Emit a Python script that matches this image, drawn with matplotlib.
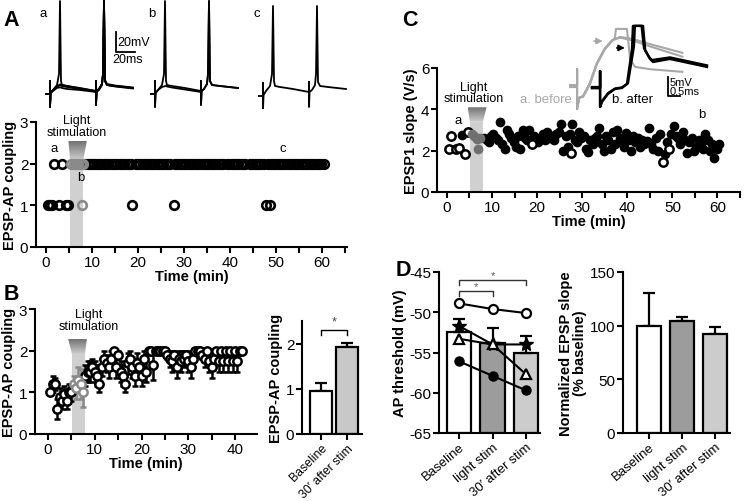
import matplotlib
matplotlib.use('Agg')
import matplotlib.pyplot as plt
import numpy as np
from matplotlib.patches import Polygon, Rectangle

plt.rcParams['font.family'] = ['Liberation Sans', 'DejaVu Sans']
plt.rcParams['axes.linewidth'] = 1.5
plt.rcParams['axes.unicode_minus'] = False

# ---------------- data ----------------
# Panel A traces (ms, mV)
trace_t = [0, 5, 5, 5, 5.6, 8, 12, 14, 15, 16, 17, 22, 35, 51, 51, 51, 51.6, 54, 57, 58, 59, 60, 62, 70, 88]
a_sw1 = [-65, -65, -52, -78, -64, -61, -56, -45, 28, -52, -56, -57, -59, -62, -52, -76, -62, -60, -55, -45, 28, -52, -56, -57, -59]
a_sw2 = [-65, -65, -52, -78, -64, -61, -58, -57, -56.5, -56.5, -57, -58, -60, -62.5, -52, -76, -62, -60, -55, -45, 28, -52, -56, -57, -59]
a_sw3 = [-65, -65, -52, -78, -64, -62, -59, -58.5, -58.5, -58.5, -59, -60, -61, -63, -52, -76, -63, -61, -56, -45, 28, -52, -56, -57.5, -59.5]
a_sw4 = [-65, -65, -52, -78, -64, -61, -57, -56, -55.5, -55.5, -56, -57, -59.5, -62, -52, -76, -62, -60, -55, -45, 28, -51, -55, -56.5, -58.5]
b_sw1 = [-65, -65, -52, -78, -64, -61, -56, -45, 28, -52, -56, -57, -59, -62, -52, -76, -62, -60, -55, -45, 28, -52, -56, -57, -59]
b_sw2 = [-65, -65, -52, -78, -64, -61, -58, -57.5, -57, -57, -57.5, -58.5, -60.5, -63, -52, -76, -62, -60, -55, -45, 28, -52, -56, -57, -59]
c_sw1 = [-67, -67, -54, -80, -66, -62, -57, -45, 23, -52, -57, -58, -60, -63, -53, -78, -63, -61, -56, -45, 23, -53, -57, -58, -60]

# Panel A scatter
a_t_two = [1.7, 3.5, 5.5, 6.0, 6.5, 7.0, 7.5, 8.0, 8.5, 9.0, 9.5, 10.0, 10.5, 11.0, 11.5, 12.0, 12.5, 13.0,
           13.5, 14.0, 14.5, 15.0, 15.5, 16.0, 16.5, 17.0, 17.5, 18.0, 18.5, 19.5, 20.0, 20.5, 21.0, 21.5,
           22.0, 22.5, 23.0, 23.5, 24.0, 24.5, 25.0, 25.5, 26.0, 26.5, 27.0, 28.0, 28.5, 29.0, 29.5, 30.0,
           30.5, 31.0, 31.5, 32.0, 32.5, 33.0, 33.5, 34.0, 34.5, 35.0, 35.5, 36.0, 36.5, 37.0, 37.5, 38.0,
           38.5, 39.3, 39.8, 40.3, 40.8, 41.3, 41.8, 42.3, 42.8, 43.3, 44.3, 44.8, 45.3, 45.8, 46.3, 46.8,
           47.3, 48.3, 48.8, 49.3, 49.8, 50.3, 50.8, 51.3, 51.8, 52.3, 52.8, 53.3, 53.8, 54.3, 54.8, 55.3,
           55.8, 56.3, 56.8, 57.3, 57.8, 58.3, 58.8, 59.3, 59.8, 60.3]
a_t_one = [0.5, 0.9, 1.3, 2.7, 4.3, 4.8, 7.7, 18.7, 27.7, 47.8, 48.6]

# Panel B time course
b_t = [0.5, 1.0, 1.5, 2.0, 2.5, 3.0, 3.5, 4.0, 4.5, 5.0, 5.5, 6.0, 6.5, 7.0, 7.5, 8.0, 8.5, 9.0, 9.5, 10.0,
       10.5, 11.0, 11.5, 12.0, 12.5, 13.0, 13.5, 14.0, 14.5, 15.0, 15.5, 16.0, 16.5, 17.0, 17.5, 18.0, 18.5,
       19.0, 19.5, 20.0, 20.5, 21.0, 21.5, 22.0, 22.5, 23.0, 23.5, 24.0, 24.5, 25.0, 25.5, 26.0, 26.5, 27.0,
       27.5, 28.0, 28.5, 29.0, 29.5, 30.0, 30.5, 31.0, 31.5, 32.0, 32.5, 33.0, 33.5, 34.0, 34.5, 35.0, 35.5,
       36.0, 36.5, 37.0, 37.5, 38.0, 38.5, 39.0, 39.5, 40.0, 40.5, 41.0, 41.5]
b_y = [1.0, 1.2, 1.2, 0.6, 0.9, 0.8, 0.95, 0.8, 1.0, 1.0, 1.2, 1.1, 1.3, 1.2, 1.0, 1.4, 1.5, 1.5, 1.6, 1.5,
       1.4, 1.2, 1.6, 1.8, 1.7, 1.6, 1.8, 2.0, 1.6, 1.9, 1.5, 1.4, 1.2, 1.7, 1.8, 1.6, 1.4, 1.7, 1.6, 1.4,
       1.8, 1.5, 2.0, 2.0, 1.65, 2.0, 2.0, 2.0, 2.0, 2.0, 1.9, 1.8, 1.75, 1.9, 1.6, 1.8, 1.75, 1.8, 1.9, 1.75,
       1.6, 1.8, 2.0, 2.0, 2.0, 1.9, 1.8, 2.0, 1.75, 1.6, 1.8, 2.0, 1.75, 2.0, 1.75, 2.0, 1.75, 2.0, 1.75, 2.0,
       1.75, 2.0, 2.0]
b_err = [0.0, 0.2, 0.15, 0.25, 0.2, 0.2, 0.2, 0.2, 0.2, 0.2, 0.2, 0.25, 0.3, 0.35, 0.35, 0.25, 0.25, 0.25, 0.2, 0.25,
         0.25, 0.2, 0.2, 0.2, 0.2, 0.25, 0.2, 0.0, 0.25, 0.1, 0.25, 0.25, 0.2, 0.25, 0.2, 0.25, 0.25, 0.25, 0.2, 0.25,
         0.2, 0.25, 0.0, 0.0, 0.35, 0.0, 0.0, 0.0, 0.0, 0.0, 0.1, 0.2, 0.25, 0.1, 0.25, 0.2, 0.25, 0.2, 0.1, 0.25,
         0.25, 0.2, 0.0, 0.0, 0.0, 0.1, 0.2, 0.0, 0.25, 0.25, 0.2, 0.0, 0.25, 0.0, 0.25, 0.0, 0.25, 0.0, 0.25, 0.0,
         0.25, 0.0, 0.0]

# Panel B bars
bb_labels = ['Baseline', '30\u2032 after stim']
bb_vals = [0.95, 1.92]
bb_err = [0.17, 0.09]

# Panel C
c_open_t = [0.5, 1.0, 2.1, 2.6, 4.0, 4.6, 18.8, 27.6, 47.9, 49.3]
c_open_y = [2.1, 2.7, 2.1, 2.15, 1.85, 2.9, 2.3, 1.88, 1.47, 2.07]
c_stim_t = [5.6, 6.1, 6.6, 6.9, 7.4]
c_stim_y = [2.8, 2.7, 2.55, 2.1, 2.6]
c_fill_t = [3.3, 8.3, 8.8, 9.3, 9.8, 10.3, 10.8, 11.3, 11.8, 12.3, 12.8, 13.3, 13.8, 14.3, 14.8, 15.3, 15.8,
            16.3, 16.8, 17.3, 17.8, 18.3, 19.3, 19.8, 20.3, 20.8, 21.3, 21.8, 22.3, 22.8, 23.3, 23.8, 24.3,
            24.8, 25.3, 25.8, 26.3, 26.8, 27.3, 27.8, 28.3, 28.8, 29.3, 29.8, 30.3, 30.8, 31.3, 31.8, 32.3,
            32.8, 33.3, 33.8, 34.3, 34.8, 35.3, 35.8, 36.3, 36.8, 37.3, 37.8, 38.3, 38.8, 39.3, 39.8, 40.3,
            40.8, 41.3, 41.8, 42.3, 42.8, 43.3, 43.8, 44.3, 44.8, 45.3, 45.8, 46.3, 46.8, 47.3, 48.3, 48.8,
            49.8, 50.3, 50.8, 51.3, 51.8, 52.3, 52.8, 53.3, 53.8, 54.3, 54.8, 55.3, 55.8, 56.3, 56.8, 57.3,
            57.8, 58.3, 58.8, 59.3, 59.8, 60.3]
c_fill_y = [2.75, 2.6, 2.5, 2.4, 2.7, 2.8, 2.6, 2.5, 3.4, 2.3, 2.1, 3.0, 2.8, 2.6, 2.4, 2.2, 2.7,
            2.1, 3.0, 2.6, 2.5, 3.0, 2.7, 2.5, 2.4, 2.6, 2.8, 2.5, 2.9, 2.6, 2.7, 2.5, 2.8,
            2.9, 3.3, 2.0, 2.7, 2.2, 2.8, 3.3, 2.5, 2.4, 2.9, 2.6, 2.7, 2.1, 1.95, 2.5, 2.3,
            2.6, 2.7, 3.1, 2.3, 2.0, 2.7, 2.5, 2.1, 2.9, 2.3, 3.0, 2.6, 2.4, 2.2, 2.85, 2.5,
            2.0, 2.7, 2.4, 2.6, 2.2, 2.5, 2.3, 2.45, 3.1, 2.3, 2.1, 2.6, 2.0, 2.8, 1.85, 2.4,
            2.8, 3.2, 2.7, 2.6, 2.3, 2.9, 2.5, 1.9, 2.4, 2.6, 2.0, 2.2, 2.5, 2.3, 2.1, 2.8,
            2.5, 2.0, 2.3, 1.65, 2.1, 2.3]

# Panel C inset traces (ms, mV)
ci_gray1_t = [0.42, 0.71, 0.71, 0.71, 0.8, 0.96, 1.25, 1.54, 1.875, 2.17, 2.29, 2.33, 2.79, 2.92, 3.125, 3.75, 5.1]
ci_gray1_v = [6.3, 6.3, 11.0, 0.5, 3.5, 3.7, 7.1, 12.4, 16.3, 18.4, 19.3, 21.6, 21.6, 13.7, 11.6, 11.0, 10.3]
ci_gray2_t = [0.42, 0.71, 0.71, 0.71, 0.8, 0.96, 1.25, 1.54, 1.875, 2.17, 2.5, 3.0, 3.75, 5.1]
ci_gray2_v = [6.8, 6.8, 11.0, 0.5, 3.5, 3.9, 7.4, 12.6, 16.5, 18.6, 19.5, 19.0, 17.6, 15.3]
ci_gray3_v = [6.8, 6.8, 11.0, 0.5, 3.5, 3.9, 7.4, 12.6, 16.5, 18.6, 19.3, 18.6, 17.0, 14.3]
ci_black1_t = [1.33, 1.67, 1.67, 1.67, 1.75, 2.0, 2.29, 2.58, 2.79, 3.0, 3.04, 3.46, 3.55, 3.75, 3.875, 4.58, 6.125]
ci_black1_v = [6.3, 6.3, 10.5, 1.05, 2.4, 4.5, 5.8, 6.05, 7.1, 16.3, 22.4, 22.4, 16.0, 13.7, 12.9, 13.7, 11.6]
ci_black2_t = [1.33, 1.67, 1.67, 1.67, 1.75, 2.0, 2.29, 2.58, 2.83, 3.08, 3.12, 3.4, 3.5, 3.7, 3.83, 4.58, 6.125]
ci_black2_v = [6.0, 6.0, 10.5, 1.05, 2.6, 4.7, 5.9, 6.2, 7.3, 17.0, 22.4, 22.4, 16.5, 14.3, 13.4, 14.1, 12.0]

# Panel D
d_labels = ['Baseline', 'light stim', '30\u2032 after stim']
d_thr = [-52.5, -53.8, -55.0]
d_thr_err = [1.6, 1.8, 2.1]
cell_open = [-48.9, -49.6, -50.1]
cell_star = [-51.7, -54.0, -54.0]
cell_tri = [-53.3, -54.0, -57.7]
cell_fill = [-56.1, -57.9, -59.7]
d_slope = [100, 104, 92]
d_slope_err = [30, 4, 6.5]

# ---------------- style ----------------
W, H = 747, 502
fig = plt.figure(figsize=(W / 100, H / 100), dpi=100)
TICK = 11
LAB = 10.5
SHADE = '#d0d0d0'
GRAYPT = '#8a8a8a'


def axpx(l, t, r, b):
    return fig.add_axes([l / W, 1 - b / H, (r - l) / W, (b - t) / H])


def ftext(x, y, s, **kw):
    fig.text(x / W, 1 - y / H, s, **kw)


def style(ax):
    for s in ['top', 'right']:
        ax.spines[s].set_visible(False)
    ax.tick_params(which='both', width=1.5, length=4, labelsize=TICK, pad=1.5)


def stim(ax, x0, x1, ytop, fx0, fx1, ftop):
    ax.add_patch(Rectangle((x0, 0), x1 - x0, ytop, color=SHADE, lw=0, zorder=0.5))
    poly = Polygon([[fx0, ftop], [fx1, ftop], [x1, ytop], [x0, ytop]], closed=True,
                   facecolor='none', edgecolor='none')
    ax.add_patch(poly)
    grad = np.linspace(0.45, 0.8, 60).reshape(-1, 1)
    im = ax.imshow(grad, extent=[fx0, fx1, ytop, ftop], origin='upper', aspect='auto',
                   cmap='gray', vmin=0, vmax=1, zorder=0.6, interpolation='bilinear')
    im.set_clip_path(poly)


# ---------------- Panel A traces ----------------
for left, sweeps in [(45, [a_sw1, a_sw2, a_sw3, a_sw4]), (150, [b_sw1, b_sw2]), (258, [c_sw1])]:
    tax = axpx(left, 0, left + 95, 110)
    tax.set_xlim(0, 95)
    tax.set_ylim(-80, 30)
    tax.axis('off')
    for sw in sweeps:
        tax.plot(trace_t, sw, color='black', lw=1.3)
    if left == 45:
        tax.plot([71, 71, 90], [-3, -23, -23], color='black', lw=1.3, clip_on=False)
        tax.text(72.5, -13, '20mV', fontsize=9, va='center')
        tax.text(67, -30, '20ms', fontsize=9, va='center')

ftext(43, 14, 'a', fontsize=9.5, ha='center', va='center')
ftext(152, 14, 'b', fontsize=9.5, ha='center', va='center')
ftext(257, 14, 'c', fontsize=9.5, ha='center', va='center')

# ---------------- Panel A scatter ----------------
ax = axpx(36, 123, 347, 248)
style(ax)
stim(ax, 5.2, 8.1, 2.1, 4.85, 8.85, 2.55)
in_t2 = [t for t in a_t_two if 5.2 <= t <= 8.1]
out_t2 = [t for t in a_t_two if not 5.2 <= t <= 8.1]
in_t1 = [t for t in a_t_one if 5.2 <= t <= 8.1]
out_t1 = [t for t in a_t_one if not 5.2 <= t <= 8.1]
mk = dict(ls='none', marker='o', ms=6.2, mew=1.9, mfc='none', zorder=3)
ax.plot(out_t2, [2] * len(out_t2), mec='black', **mk)
ax.plot(out_t1, [1] * len(out_t1), mec='black', **mk)
ax.plot(in_t2, [2] * len(in_t2), mec=GRAYPT, **mk)
ax.plot(in_t1, [1] * len(in_t1), mec=GRAYPT, **mk)
ax.set_xlim(-2.2, 65.4)
ax.set_ylim(0, 3)
ax.set_xticks([0, 10, 20, 30, 40, 50, 60])
ax.set_xticks([5, 15, 25, 35, 45, 55, 65], minor=True)
ax.set_yticks([0, 1, 2, 3])
ax.set_xlabel('Time (min)', fontsize=LAB, fontweight='bold', labelpad=0)
ax.set_ylabel('EPSP-AP coupling', fontsize=LAB, fontweight='bold', labelpad=2)
ax.text(6.7, 2.62, 'Light\nstimulation', fontsize=9, ha='center', va='bottom', linespacing=0.95)
ax.text(1.8, 2.37, 'a', fontsize=9.5, ha='center', va='center')
ax.text(7.5, 1.67, 'b', fontsize=9.5, ha='center', va='center')
ax.text(51.4, 2.37, 'c', fontsize=9.5, ha='center', va='center')

# ---------------- Panel B time course ----------------
ax = axpx(35, 310, 257, 435)
style(ax)
stim(ax, 5.1, 7.9, 1.92, 4.3, 8.3, 2.28)
ins = [i for i, t in enumerate(b_t) if 5.1 <= t <= 7.9]
outs = [i for i, t in enumerate(b_t) if not 5.1 <= t <= 7.9]
for idx, col in [(outs, 'black'), (ins, GRAYPT)]:
    ax.errorbar([b_t[i] for i in idx], [b_y[i] for i in idx], yerr=[b_err[i] for i in idx],
                fmt='o', ms=6, mew=1.8, mfc='white', mec=col, ecolor=col, elinewidth=1.8,
                capsize=2.5, capthick=1.8, zorder=3)
ax.set_xlim(-2.8, 44.7)
ax.set_ylim(0, 3)
ax.set_xticks([0, 10, 20, 30, 40])
ax.set_xticks([5, 15, 25, 35], minor=True)
ax.set_yticks([0, 1, 2, 3])
ax.set_xlabel('Time (min)', fontsize=LAB, fontweight='bold', labelpad=0)
ax.set_ylabel('EPSP-AP coupling', fontsize=LAB, fontweight='bold', labelpad=2)
ax.text(8.6, 2.45, 'Light\nstimulation', fontsize=9, ha='center', va='bottom', linespacing=0.95)

# ---------------- Panel B bars ----------------
ax = axpx(302, 322, 362, 435)
style(ax)
ax.bar([0, 1], bb_vals, width=0.83, color=['white', '#c8c8c8'], edgecolor='black', lw=1.6, zorder=2)
ax.errorbar([0, 1], bb_vals, yerr=[[0, 0], bb_err], fmt='none', ecolor='black', elinewidth=1.6,
            capsize=4, capthick=1.6, zorder=1)
ax.plot([0, 0, 1, 1], [2.2, 2.31, 2.31, 2.2], color='black', lw=1, clip_on=False)
ax.text(0.5, 2.36, '*', fontsize=9, ha='center', va='bottom', color='#444')
ax.set_xlim(-0.72, 1.55)
ax.set_ylim(0, 2.5)
ax.set_yticks([0, 1, 2])
ax.set_xticks([0, 1])
ax.set_xticklabels(bb_labels, rotation=45, ha='right', rotation_mode='anchor', fontsize=8.8)
ax.set_ylabel('EPSP-AP coupling', fontsize=LAB, fontweight='bold', labelpad=2)

# ---------------- Panel C ----------------
ax = axpx(437, 69, 740, 193)
style(ax)
stim(ax, 5.1, 8.0, 3.4, 4.6, 8.8, 4.1)
ax.plot(c_fill_t, c_fill_y, 'o', ms=7, color='black', mew=0, zorder=3)
ax.plot(c_open_t, c_open_y, 'o', ms=6, mfc='white', mec='black', mew=1.8, zorder=3)
ax.plot(c_stim_t, c_stim_y, 'o', ms=7, color='#707070', mew=0, zorder=3)
ax.set_xlim(-2.2, 64.9)
ax.set_ylim(0, 6)
ax.set_xticks([0, 10, 20, 30, 40, 50, 60])
ax.set_xticks([5, 15, 25, 35, 45, 55, 65], minor=True)
ax.set_yticks([0, 2, 4, 6])
ax.set_xlabel('Time (min)', fontsize=LAB, fontweight='bold', labelpad=0)
ax.set_ylabel('EPSP1 slope (V/s)', fontsize=LAB, fontweight='bold', labelpad=2)
ax.text(6.0, 4.25, 'Light\nstimulation', fontsize=9, ha='center', va='bottom', linespacing=0.95)
ax.text(2.4, 3.5, 'a', fontsize=9.5, ha='center', va='center')
ax.text(56.6, 3.75, 'b', fontsize=9.5, ha='center', va='center')

# inset traces
iax = axpx(560, 20, 715, 112)
iax.set_xlim(0, 155 / 24)
iax.set_ylim(0, 92 / 3.8)
iax.axis('off')
LG = '#a8a8a8'
iax.plot(ci_gray1_t, ci_gray1_v, color=LG, lw=1.5)
iax.plot(ci_gray2_t, ci_gray2_v, color=LG, lw=1.5)
iax.plot(ci_gray2_t, ci_gray3_v, color=LG, lw=1.5)
iax.plot(ci_black1_t, ci_black1_v, color='black', lw=1.7)
iax.plot(ci_black2_t, ci_black2_v, color='black', lw=1.7)
iax.plot([4.5, 4.5, 5.0], [8.95, 3.95, 3.95], color='black', lw=1.3)
iax.text(4.58, 7.6, '5mV', fontsize=8, va='center')
iax.text(4.55, 5.2, '0.5ms', fontsize=8, va='center')
iax.annotate('', xy=(1.9, 18.4), xytext=(1.3, 18.4),
             arrowprops=dict(arrowstyle='-|>', color=LG, lw=1.2, mutation_scale=9))
iax.annotate('', xy=(2.82, 16.6), xytext=(2.25, 16.6),
             arrowprops=dict(arrowstyle='-|>', color='black', lw=1.2, mutation_scale=9))
iax.text(-0.58, 3.2, 'a. before', fontsize=9.5, color=LG, ha='center', va='center', clip_on=False)
iax.text(3.0, 3.2, 'b. after', fontsize=9.5, color='black', ha='center', va='center', clip_on=False)

# ---------------- Panel D left ----------------
ax = axpx(439, 273, 540, 434)
style(ax)
xs = [0, 1, 2]
ax.bar(xs, [v + 65 for v in d_thr], bottom=-65, width=0.72,
       color=['white', '#9c9c9c', '#cccccc'], edgecolor='black', lw=1.6, zorder=1)
ax.errorbar(xs, d_thr, yerr=[[0, 0, 0], d_thr_err], fmt='none', ecolor='black', elinewidth=1.6,
            capsize=4, capthick=1.6, zorder=2)
ax.plot(xs, cell_open, '-o', color='black', ms=6.5, mfc='white', mew=1.6, lw=1.5, zorder=4)
ax.plot(xs, cell_star, '-*', color='black', ms=10, lw=1.5, zorder=4)
ax.plot(xs, cell_tri, '-^', color='black', ms=6.5, mfc='white', mew=1.6, lw=1.5, zorder=4)
ax.plot(xs, cell_fill, '-o', color='black', ms=6.5, lw=1.5, zorder=4)
ax.plot([0, 0, 2, 2], [-46.6, -46.0, -46.0, -46.6], color='#333', lw=1)
ax.plot([0, 0, 1, 1], [-48.0, -47.4, -47.4, -48.0], color='#333', lw=1)
ax.text(1.0, -46.0, '*', fontsize=8, ha='center', va='bottom', color='#555')
ax.text(0.5, -47.4, '*', fontsize=8, ha='center', va='bottom', color='#555')
ax.set_xlim(-0.6, 2.42)
ax.set_ylim(-65, -45)
ax.set_yticks([-65, -60, -55, -50, -45])
ax.set_xticks(xs)
ax.set_xticklabels(d_labels, rotation=40, ha='right', rotation_mode='anchor', fontsize=9.5)
ax.set_ylabel('AP threshold (mV)', fontsize=LAB, fontweight='bold', labelpad=2)

# ---------------- Panel D right ----------------
ax = axpx(623, 273, 730, 434)
style(ax)
ax.bar(xs, d_slope, width=0.73, color=['white', '#9c9c9c', '#cccccc'], edgecolor='black', lw=1.6, zorder=2)
ax.errorbar(xs, d_slope, yerr=[[0, 0, 0], d_slope_err], fmt='none', ecolor='black', elinewidth=1.6,
            capsize=4, capthick=1.6, zorder=1)
ax.set_xlim(-0.79, 2.45)
ax.set_ylim(0, 150)
ax.set_yticks([0, 50, 100, 150])
ax.set_xticks(xs)
ax.set_xticklabels(d_labels, rotation=40, ha='right', rotation_mode='anchor', fontsize=9.5)
ax.set_ylabel('Normalized EPSP slope\n(% baseline)', fontsize=LAB, fontweight='bold', labelpad=2,
              linespacing=1.0)

# panel letters
for s, x, y in [('A', 11.5, 21), ('B', 11.5, 295), ('C', 409.5, 20.5), ('D', 403, 271)]:
    ftext(x, y, s, fontsize=15.5, fontweight='bold', ha='center', va='center')

fig.savefig('out.png', dpi=100)
